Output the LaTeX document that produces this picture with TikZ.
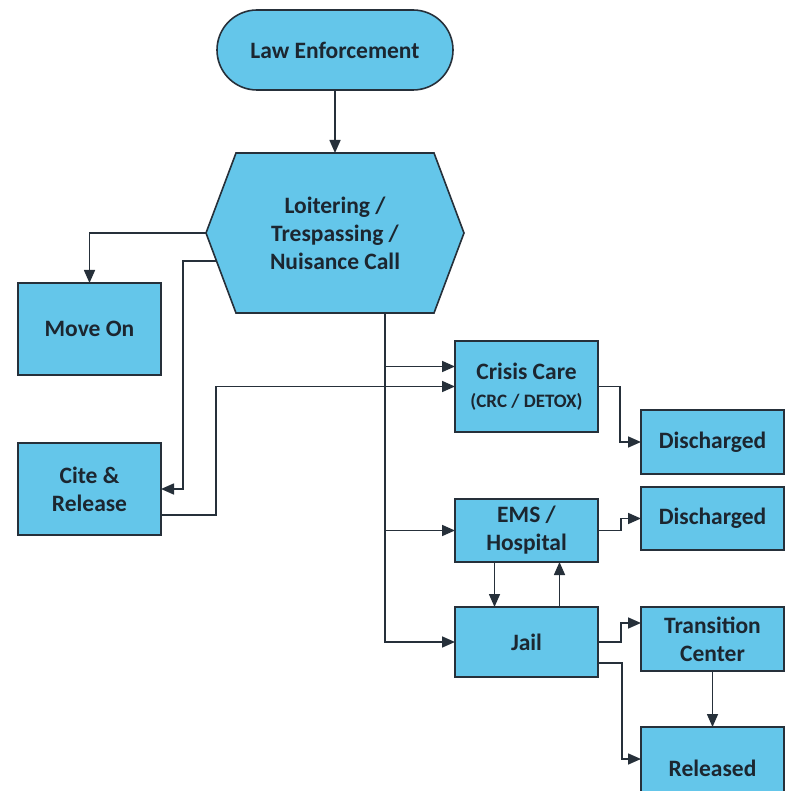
\documentclass[tikz,border=0pt]{standalone}
\usepackage{fontspec}
\setmainfont{Carlito}
\usetikzlibrary{positioning,arrows.meta,backgrounds}
\definecolor{boxblue}{RGB}{100,198,234}
\definecolor{boxline}{RGB}{38,48,58}
\definecolor{boxtext}{RGB}{28,38,48}
\tikzset{
	shapefill/.style={draw=boxline, fill=boxblue, line width=1.6pt},
	box/.style={shapefill, minimum width=143pt, text=boxtext, align=center, inner sep=2pt, outer sep=0pt,
		font=\fontsize{23.5}{28}\selectfont\bfseries},
	arr/.style={draw=boxline, line width=1.6pt, -{Triangle[length=13pt,width=11pt]}},
}

\begin{document}
\begin{tikzpicture}
		\useasboundingbox (0,0) rectangle (792pt,-791pt);
		\clip (0,0) rectangle (792pt,-791pt);
		\node[box, rounded corners=40pt, minimum width=236pt, minimum height=80pt] (le) at (335pt,-50pt) {Law Enforcement};
		\node[box, draw=none, fill=none, minimum width=198pt, minimum height=160pt, below=63pt of le] (hex) {Loitering /\\Trespassing /\\Nuisance Call};
		\coordinate (hexw) at ([xshift=-30pt]hex.west);
		\coordinate (hexe) at ([xshift=30pt]hex.east);
		\begin{scope}[on background layer]
		\draw[shapefill] (hex.north west) -- (hex.north east) -- (hexe) -- (hex.south east) -- (hex.south west) -- (hexw) -- cycle;
		\end{scope}
		\node[box, minimum height=92pt, below left=50pt and 45pt of hexw] (mo) {Move On};
		\node[box, minimum height=92pt, below=68pt of mo] (cr) {Cite \&\\Release};
		\node[box, minimum height=91pt, below right=28pt and 120pt of hex.south] (cc) {Crisis Care\\{\fontsize{19}{24}\selectfont (CRC / DETOX)}};
		\node[box, minimum height=63pt, below=67pt of cc] (ems) {EMS /\\Hospital};
		\node[box, minimum height=70pt, below=45pt of ems] (jail) {Jail};
		\node[box, minimum height=63pt, right=43pt of ems, yshift=12pt] (dis2) {Discharged};
		\node[box, minimum height=64pt, above=13pt of dis2] (dis1) {Discharged};
		\node[box, minimum height=64pt, below=57pt of dis2] (tc) {Transition\\Center};
		\node[box, minimum height=82pt, below=56pt of tc] (rel) {Released};
		
		\coordinate (hexcut) at ([shift={(10pt,-28pt)}]hexw);
		\coordinate (trunk) at ([xshift=50pt]hex.south);
		\coordinate (ccin) at ([yshift=20pt]cc.west);
		
		\draw[arr] (le) -- (hex);
		\draw[arr] (hexw) -| (mo);
		\draw[arr] (hexcut) -- ++(-33pt,0) |- (cr);
		\draw[arr] ([yshift=-26pt]cr.east) -- ++(55pt,0) |- (cc);
		\draw[arr] (trunk) |- (jail);
		\draw[arr] (trunk |- ccin) -- (ccin);
		\draw[arr] (trunk |- ems) -- (ems);
		\draw[arr] (cc.east) -- ++(22pt,0) |- (dis1);
		\draw[arr] (ems.east) -- ++(23pt,0) |- (dis2);
		\draw[arr] ([xshift=-32pt]ems.south) -- ++(0,-45pt);
		\draw[arr] ([xshift=33pt]jail.north) -- ++(0,45pt);
		\draw[arr] (jail.east) -- ++(23pt,0) |- ([yshift=16pt]tc.west);
		\draw[arr] ([yshift=-21pt]jail.east) -- ++(24pt,0) |- ([yshift=9pt]rel.west);
		\draw[arr] (tc) -- (rel);
\end{tikzpicture}
\end{document}
